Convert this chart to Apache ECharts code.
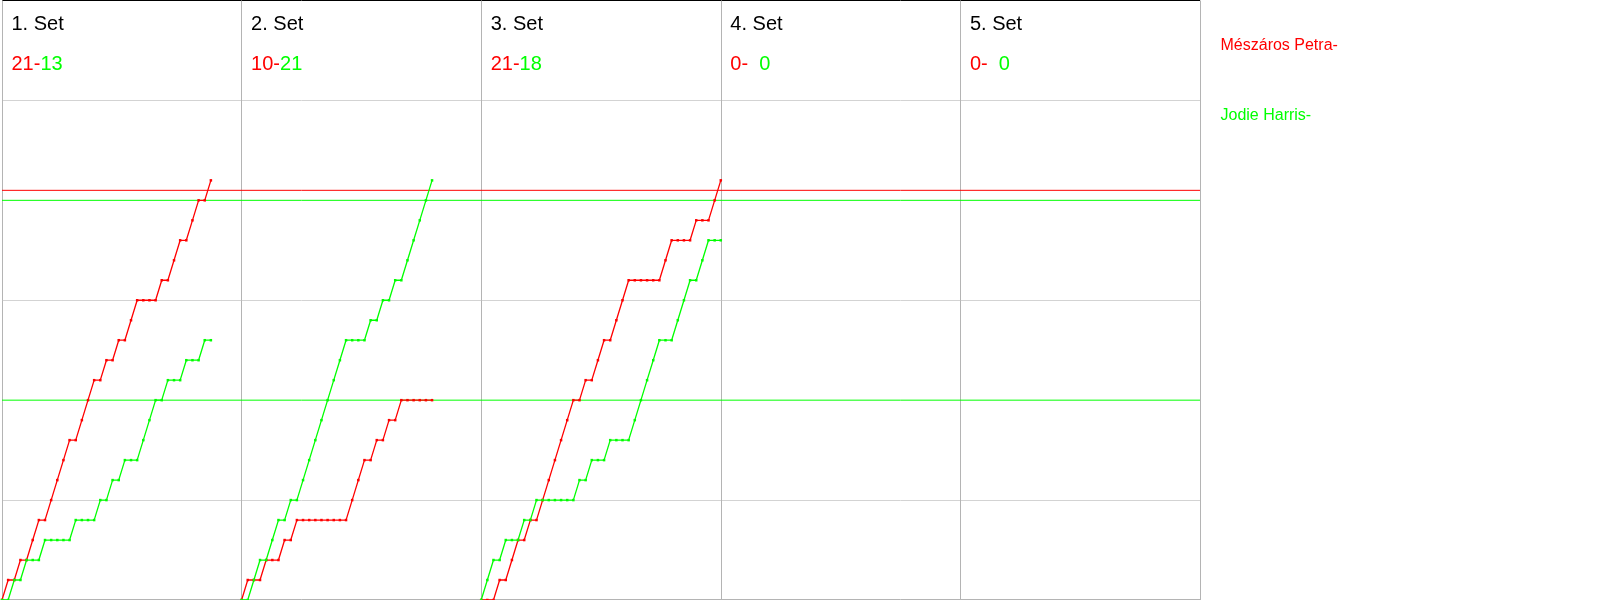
<!DOCTYPE html>
<html><head><meta charset="utf-8">
<script src="https://cdn.jsdelivr.net/npm/echarts@6/dist/echarts.min.js"></script>
<style>html,body{margin:0;padding:0;background:#fff}#c{width:1600px;height:600px}</style>
</head><body><div id="c"></div>
<script>
// ---- data ----
const setLabels = ['1. Set', '2. Set', '3. Set', '4. Set', '5. Set'];
const playerNames = ['Mészáros Petra', 'Jodie Harris'];
const setScoresRed = [21, 10, 21, 0, 0];
const setScoresGreen = [13, 21, 18, 0, 0];
// running score after each rally (index 0 = 0:0)
const red1 = [0,1,1,2,2,3,4,4,5,6,7,8,8,9,10,11,11,12,12,13,13,14,15,15,15,15,16,16,17,18,18,19,20,20,21];
const green1 = [0,0,1,1,2,2,2,3,3,3,3,3,4,4,4,4,5,5,6,6,7,7,7,8,9,10,10,11,11,11,12,12,12,13,13];
const red2 = [0,1,1,1,2,2,2,3,3,4,4,4,4,4,4,4,4,4,5,6,7,7,8,8,9,9,10,10,10,10,10,10];
const green2 = [0,0,1,2,2,3,4,4,5,5,6,7,8,9,10,11,12,13,13,13,13,14,14,15,15,16,16,17,18,19,20,21];
const red3 = [0,0,0,1,1,2,3,3,4,4,5,6,7,8,9,10,10,11,11,12,13,13,14,15,16,16,16,16,16,16,17,18,18,18,18,19,19,19,20,21];
const green3 = [0,1,2,2,3,3,3,4,4,5,5,5,5,5,5,5,6,6,7,7,7,8,8,8,8,9,10,11,12,13,13,13,14,15,16,16,17,18,18,18];
const red4 = [], green4 = [], red5 = [], green5 = [];
const redRefLines = [20.5];
const greenRefLines = [20, 10];
const ralliesPerPanel = 39;
const scoreMax = 30;

// ---- chart ----
const RED = '#ff0000', GREEN = '#00ff00';
const FONT = '"Liberation Sans", Arial, sans-serif';
const redSets = [red1, red2, red3, red4, red5];
const greenSets = [green1, green2, green3, green4, green5];
const xMax = ralliesPerPanel * setLabels.length;
const chart = echarts.init(document.getElementById('c'));

function pairs(arr, k) { return arr.map((v, i) => [k * ralliesPerPanel + i, v]); }
function lineSeries(name, color, arr, k) {
  return {
    type: 'line', name: name, data: pairs(arr, k),
    symbol: 'rect', symbolSize: 2.5, showSymbol: true,
    lineStyle: { color: color, width: 1.3 }, itemStyle: { color: color },
    emphasis: { disabled: true }, silent: true, z: 3
  };
}
function refLine(name, color, v) {
  return {
    type: 'line', name: name, data: [[0, v], [xMax, v]], silent: true,
    symbol: 'none', showSymbol: false,
    lineStyle: { color: color, width: 1, type: 'solid' }, itemStyle: { color: color },
    emphasis: { disabled: true }, z: 2
  };
}
const series = [];
redSets.forEach((arr, k) => { if (arr.length) series.push(lineSeries(playerNames[0], RED, arr, k)); });
greenSets.forEach((arr, k) => { if (arr.length) series.push(lineSeries(playerNames[1], GREEN, arr, k)); });
redRefLines.forEach(v => series.push(refLine(playerNames[0], RED, v)));
greenRefLines.forEach(v => series.push(refLine(playerNames[1], GREEN, v)));

chart.setOption({
  animation: false,
  backgroundColor: '#fff',
  grid: { left: 2, right: 400, top: 0.5, bottom: -0.5 },
  xAxis: {
    type: 'value', min: 0, max: xMax, interval: ralliesPerPanel, offset: -1,
    axisLine: { show: true, lineStyle: { color: '#b4b4b4', width: 1 } },
    axisTick: { show: false }, axisLabel: { show: false },
    splitLine: { show: true, lineStyle: { color: '#b4b4b4', width: 1 } }
  },
  yAxis: {
    type: 'value', min: 0, max: scoreMax, interval: 5,
    axisLine: { show: false }, axisTick: { show: false }, axisLabel: { show: false },
    splitLine: { show: true, lineStyle: { width: 1,
      color: ['rgba(0,0,0,0)', '#d3d3d3', 'rgba(0,0,0,0)', '#d3d3d3', 'rgba(0,0,0,0)', '#d3d3d3', '#000000'] } }
  },
  legend: {
    orient: 'vertical', left: 1215.5, top: 38, padding: 0, itemGap: 54, itemWidth: 0, itemHeight: 14,
    icon: 'none', selectedMode: false,
    formatter: n => n + '-',
    data: [
      { name: playerNames[0], textStyle: { color: RED, fontSize: 16, fontFamily: FONT } },
      { name: playerNames[1], textStyle: { color: GREEN, fontSize: 16, fontFamily: FONT } }
    ]
  },
  series: series
});

const graphics = [];
setLabels.forEach((lab, k) => {
  const x = chart.convertToPixel({ gridIndex: 0 }, [k * ralliesPerPanel, 0])[0] + 9.5;
  const g = setScoresGreen[k];
  const gTxt = g < 10 ? '  ' + g : String(g);
  graphics.push({ type: 'text', x: x, y: 24.5, silent: true,
    style: { text: lab, fill: '#000', font: '20px ' + FONT, textVerticalAlign: 'middle' } });
  graphics.push({ type: 'text', x: x, y: 64.5, silent: true,
    style: { text: '{r|' + setScoresRed[k] + '-}{g|' + gTxt + '}', font: '20px ' + FONT,
      textVerticalAlign: 'middle',
      rich: { r: { fill: RED, font: '20px ' + FONT }, g: { fill: GREEN, font: '20px ' + FONT } } } });
});
chart.setOption({ graphic: graphics });
</script></body></html>
